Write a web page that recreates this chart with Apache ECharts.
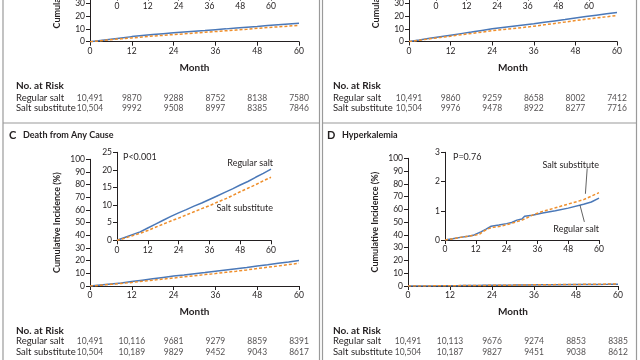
<!DOCTYPE html>
<html><head><meta charset="utf-8">
<script src="https://cdn.jsdelivr.net/npm/echarts@6/dist/echarts.min.js"></script>
<style>html,body{margin:0;padding:0;background:#fff}#c{width:640px;height:360px}</style>
</head><body><div id="c"></div><script>
// ---------- data ----------
const months = [0,3,6,9,12,15,18,21,24,27,30,33,36,39,42,45,48,51,54,57,60];
// Panel A (top-left, cropped)
const aRegular = [0,1.0,2.0,3.0,4.0,4.8,5.6,6.3,7.0,7.6,8.2,8.8,9.5,10.1,10.8,11.4,12.0,12.7,13.3,13.9,14.5];
const aSubstitute = [0,0.8,1.6,2.3,3.0,3.7,4.4,5.0,5.6,6.2,6.8,7.4,8.0,8.6,9.2,9.8,10.5,11.1,11.7,12.3,12.8];
// Panel B (top-right, cropped)
const bRegular = [0,1.2,2.5,3.8,5.0,6.2,7.4,8.7,10.0,11.0,12.0,13.0,14.0,15.1,16.2,17.3,18.5,19.6,20.7,21.8,22.9];
const bSubstitute = [0,1.0,2.1,3.2,4.2,5.3,6.3,7.4,8.5,9.4,10.2,11.1,12.0,13.1,14.2,15.3,16.5,17.5,18.5,19.5,20.4];
// Panel C: Death from any cause
const cRegular = [0,0.8,1.6,2.4,3.5,4.6,5.7,6.8,7.8,8.7,9.7,10.6,11.6,12.6,13.6,14.6,15.7,16.7,17.9,19.0,20.2];
const cSubstitute = [0,0.6,1.3,2.0,2.8,3.7,4.6,5.5,6.3,7.2,8.1,9.0,9.8,10.8,11.7,12.7,13.8,14.8,15.8,16.9,17.9];
// Panel D: Hyperkalemia
const dMonthsRegular = [0,3,6,9,11,12,14,16,18,21,24,26,28,30,31,34,38,43,48,54,57,60];
const dRegular = [0,0.04,0.09,0.13,0.16,0.2,0.28,0.37,0.47,0.51,0.56,0.6,0.68,0.72,0.81,0.85,0.92,1.0,1.09,1.22,1.3,1.43];
const dMonthsSubstitute = [0,3,6,9,12,13.5,15,17,19,21,24,27,30,32,34,38,43,48,54,57,60];
const dSubstitute = [0,0.04,0.09,0.13,0.17,0.2,0.3,0.39,0.44,0.46,0.52,0.6,0.68,0.76,0.85,0.98,1.1,1.23,1.38,1.5,1.62];
// Numbers at risk
const riskMonths = [0,12,24,36,48,60];
const riskRows = ['Regular salt','Salt substitute'];
const aRiskRegular = [10491,9870,9288,8752,8138,7580];
const aRiskSubstitute = [10504,9992,9508,8997,8385,7846];
const bRiskRegular = [10491,9860,9259,8658,8002,7412];
const bRiskSubstitute = [10504,9976,9478,8922,8277,7716];
const cRiskRegular = [10491,10116,9681,9279,8859,8391];
const cRiskSubstitute = [10504,10189,9829,9452,9043,8617];
const dRiskRegular = [10491,10113,9676,9274,8853,8385];
const dRiskSubstitute = [10504,10187,9827,9451,9038,8612];

// ---------- style ----------
const FONT = 'Lato';
const INK = '#231f20';
const BLUE = '#4a78b8';
const ORANGE = '#ef8f2c';
const FRAME = '#9a9a9a';

const chart = echarts.init(document.getElementById('c'), null, {renderer:'canvas'});

const gridBoxes = [
  {left:90, right:341, top:-85.3, height:127},     // 0 A main
  {left:117, right:369, top:-91.4, height:88},     // 1 A inset
  {left:409, right:23, top:-85.5, height:127},     // 2 B main
  {left:436, right:51, top:-91.4, height:88},      // 3 B inset
  {left:90, right:341, top:159.3, height:126.7},   // 4 C main
  {left:117, right:369, top:152.3, height:88},     // 5 C inset
  {left:408, right:22, top:158.3, height:127.7},   // 6 D main
  {left:445, right:41, top:152.3, height:87.7},    // 7 D inset
  {left:90, right:341, top:93, height:20.5},       // 8 A risk
  {left:409, right:23, top:93, height:20.5},       // 9 B risk
  {left:90, right:341, top:335.5, height:22},      // 10 C risk
  {left:408, right:22, top:335.5, height:22}       // 11 D risk
];
const grids = gridBoxes.map(g => Object.assign({outerBoundsMode:'none', containLabel:false}, g));

function xAx(gi, withName){
  return {
    gridIndex: gi, type:'value', min:0, max:60, interval:12,
    axisLine:{show:true, lineStyle:{color:INK, width:1}},
    axisTick:{show:true, length:4, lineStyle:{color:INK}},
    axisLabel:{color:INK, fontSize:8.5, fontFamily:FONT, margin:5, hideOverlap:false},
    splitLine:{show:false},
    name: withName ? 'Month' : '',
    nameLocation:'middle', nameGap:21,
    nameTextStyle:{color:INK, fontSize:10, fontWeight:'bold', fontFamily:FONT}
  };
}
function yAx(gi, max, interval, withName){
  return {
    gridIndex: gi, type:'value', min:0, max:max, interval:interval,
    axisLine:{show:true, lineStyle:{color:INK, width:1}},
    axisTick:{show:true, length:4, lineStyle:{color:INK}},
    axisLabel:{color:INK, fontSize:8.5, fontFamily:FONT, margin:5, hideOverlap:false},
    splitLine:{show:false},
    name: withName ? 'Cumulative Incidence (%)' : '',
    nameLocation:'middle', nameRotate:90, nameGap:28,
    nameTextStyle:{color:INK, fontSize:9, fontWeight:'bold', fontFamily:FONT}
  };
}
function riskX(gi){
  return {gridIndex:gi, type:'value', min:0, max:60, show:false};
}
function riskY(gi, margin){
  return {
    gridIndex:gi, type:'category', data:riskRows, inverse:true,
    axisLine:{show:false}, axisTick:{show:false}, splitLine:{show:false},
    axisLabel:{color:INK, fontSize:9.5, fontFamily:FONT, align:'left', margin:margin, interval:0, hideOverlap:false}
  };
}

const xAxes = [xAx(0,true), xAx(1,false), xAx(2,true), xAx(3,false),
               xAx(4,true), xAx(5,false), xAx(6,true), xAx(7,false),
               riskX(8), riskX(9), riskX(10), riskX(11)];
const yAxes = [yAx(0,100,10,true), yAx(1,20,5,false), yAx(2,100,10,true), yAx(3,25,5,false),
               yAx(4,100,10,true), yAx(5,25,5,false), yAx(6,100,10,true), yAx(7,3,1,false),
               riskY(8,74), riskY(9,76), riskY(10,74), riskY(11,75)];

function zip(xs, ys){ return xs.map((x,i)=>[x, ys[i]]); }
function lineSeries(idx, xs, ys, dashed, extra){
  const s = {
    type:'line', xAxisIndex:idx, yAxisIndex:idx, data:zip(xs, ys),
    showSymbol:false, symbol:'none', smooth:false, animation:false, silent:true,
    lineStyle: dashed ? {color:ORANGE, width:1.5, type:[3,2]} : {color:BLUE, width:1.5},
    z: dashed ? 3 : 2
  };
  return Object.assign(s, extra || {});
}
function fmt(n){ return n >= 10000 ? n.toLocaleString('en-US') : String(n); }
function riskSeries(idx, reg, sub){
  const data = [];
  riskMonths.forEach((m,i)=>{ data.push([m, 0, reg[i]]); data.push([m, 1, sub[i]]); });
  return {
    type:'scatter', xAxisIndex:idx, yAxisIndex:idx, data:data, symbolSize:1,
    itemStyle:{color:'rgba(0,0,0,0)'}, animation:false, silent:true,
    encode:{x:0, y:1},
    labelLayout:{hideOverlap:false},
    label:{show:true, position:'inside', formatter:p=>fmt(p.data[2]), color:INK, fontSize:8.5, fontFamily:FONT}
  };
}

const leader = (a, b) => ({
  silent:true, symbol:'none', animation:false,
  lineStyle:{color:'#3a3a3a', width:0.8, type:'solid'}, label:{show:false},
  data:[[{coord:a},{coord:b}]]
});

const series = [
  lineSeries(0, months, aRegular, false), lineSeries(0, months, aSubstitute, true),
  lineSeries(1, months, aRegular, false), lineSeries(1, months, aSubstitute, true),
  lineSeries(2, months, bRegular, false), lineSeries(2, months, bSubstitute, true),
  lineSeries(3, months, bRegular, false), lineSeries(3, months, bSubstitute, true),
  lineSeries(4, months, cRegular, false), lineSeries(4, months, cSubstitute, true),
  lineSeries(5, months, cRegular, false), lineSeries(5, months, cSubstitute, true),
  lineSeries(6, dMonthsRegular, dRegular, false), lineSeries(6, dMonthsSubstitute, dSubstitute, true),
  lineSeries(7, dMonthsRegular, dRegular, false, {markLine: leader([52.6,1.19],[54.3,0.62])}),
  lineSeries(7, dMonthsSubstitute, dSubstitute, true, {markLine: leader([55.4,2.45],[54.7,1.58])}),
  riskSeries(8, aRiskRegular, aRiskSubstitute),
  riskSeries(9, bRiskRegular, bRiskSubstitute),
  riskSeries(10, cRiskRegular, cRiskSubstitute),
  riskSeries(11, dRiskRegular, dRiskSubstitute)
];

function txt(x, y, s, opts){
  return {type:'text', x:x, y:y, silent:true, style:Object.assign({
    text:s, fill:INK, font:'9px ' + FONT, textAlign:'left', textVerticalAlign:'middle'
  }, opts || {})};
}
function ln(x1,y1,x2,y2){
  return {type:'line', silent:true, shape:{x1,y1,x2,y2}, style:{stroke:FRAME, lineWidth:1.2}};
}

const graphic = [
  ln(3,0,3,360), ln(319.5,0,319.5,360), ln(322.5,0,322.5,360), ln(636.5,0,636.5,360),
  ln(3,123,319.5,123), ln(322.5,123,636.5,123),
  txt(16, 86, 'No. at Risk', {font:'bold 10px ' + FONT}),
  txt(333, 86, 'No. at Risk', {font:'bold 10px ' + FONT}),
  txt(16, 331, 'No. at Risk', {font:'bold 10px ' + FONT}),
  txt(333, 331, 'No. at Risk', {font:'bold 10px ' + FONT}),
  txt(9, 135, 'C', {font:'bold 11px ' + FONT}),
  txt(23, 135, 'Death from Any Cause', {font:'bold 9px ' + FONT}),
  txt(327, 135, 'D', {font:'bold 11px ' + FONT}),
  txt(342, 135, 'Hyperkalemia', {font:'bold 9px ' + FONT}),
  txt(123, 157, 'P<0.001'),
  txt(453, 157, 'P=0.76'),
  txt(273, 163, 'Regular salt', {textAlign:'right'}),
  txt(273, 208, 'Salt substitute', {textAlign:'right'}),
  txt(599, 165, 'Salt substitute', {textAlign:'right'}),
  txt(599, 229, 'Regular salt', {textAlign:'right'})
];

chart.setOption({
  animation:false,
  backgroundColor:'#ffffff',
  grid: grids,
  xAxis: xAxes,
  yAxis: yAxes,
  series: series,
  graphic: graphic
});
</script></body></html>
